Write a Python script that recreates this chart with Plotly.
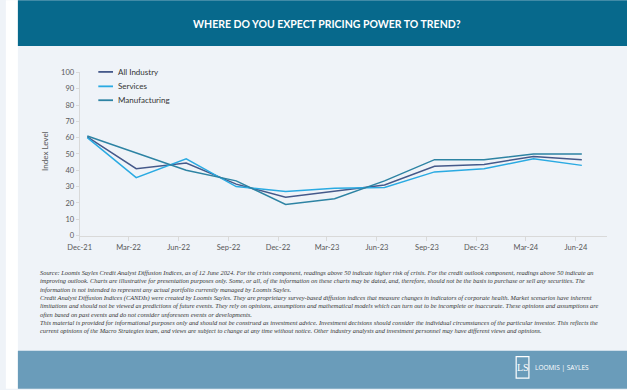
import plotly.graph_objects as go

# ---- data ----
dates = ["2021-12-15", "2022-03-15", "2022-06-15", "2022-09-15", "2022-12-15",
         "2023-03-15", "2023-06-15", "2023-09-15", "2023-12-15", "2024-03-15", "2024-06-12"]
tick_dates = ["2021-12-01", "2022-03-01", "2022-06-01", "2022-09-01", "2022-12-01",
              "2023-03-01", "2023-06-01", "2023-09-01", "2023-12-01", "2024-03-01", "2024-06-01"]
tick_labels = ["Dec-21", "Mar-22", "Jun-22", "Sep-22", "Dec-22", "Mar-23",
               "Jun-23", "Sep-23", "Dec-23", "Mar-24", "Jun-24"]
all_industry = [60.5, 41, 44.5, 31.5, 23.5, 27, 31, 42.5, 43.5, 48.5, 46.5]
services = [60, 35.5, 47, 30, 27, 29, 29.5, 39, 41, 47, 43]
manufacturing = [61, 50.5, 40, 33.5, 19, 22.5, 33.5, 46.5, 46.5, 50, 50]
series_names = ["All Industry", "Services", "Manufacturing"]
series_values = [all_industry, services, manufacturing]
series_colors = ["#45598A", "#2AAAE2", "#2D83A3"]
y_ticks = [0, 10, 20, 30, 40, 50, 60, 70, 80, 90, 100]

title_text = "WHERE DO YOU EXPECT PRICING POWER TO TREND?"
footnote_lines = [
    "Source: Loomis Sayles Credit Analyst Diffusion Indices, as of 12 June 2024. For the crisis component, readings above 50 indicate higher risk of crisis. For the credit outlook component, readings above 50 indicate an",
    "improving outlook. Charts are illustrative for presentation purposes only. Some, or all, of the information on these charts may be dated, and, therefore, should not be the basis to purchase or sell any securities. The",
    "information is not intended to represent any actual portfolio currently managed by Loomis Sayles.",
    "Credit Analyst Diffusion Indices (CANDIs) were created by Loomis Sayles. They are proprietary survey-based diffusion indices that measure changes in indicators of corporate health. Market scenarios have inherent",
    "limitations and should not be viewed as predictions of future events. They rely on opinions, assumptions and mathematical models which can turn out to be incomplete or inaccurate. These opinions and assumptions are",
    "often based on past events and do not consider unforeseen events or developments.",
    "This material is provided for informational purposes only and should not be construed as investment advice. Investment decisions should consider the individual circumstances of the particular investor. This reflects the",
    "current opinions of the Macro Strategies team, and views are subject to change at any time without notice. Other industry analysts and investment personnel may have different views and opinions.",
]

W, H = 627, 390
BG = "#EFF3F8"
FONT = "Lato"

fig = go.Figure()
for name, vals, col in zip(series_names, series_values, series_colors):
    fig.add_trace(go.Scatter(x=dates, y=vals, name=name, mode="lines",
                             line=dict(color=col, width=1.5), showlegend=False))

def px_x(p):
    return p / W

def px_y(p):
    return 1 - p / H

shapes = [
    dict(type="rect", xref="paper", yref="paper", x0=-0.01, x1=px_x(6), y0=-0.01, y1=1.01,
         fillcolor="white", line=dict(width=0), layer="above"),
    dict(type="rect", xref="paper", yref="paper", x0=px_x(6), x1=1.01, y0=px_y(43), y1=1.01,
         fillcolor="#07698C", line=dict(width=0), layer="above"),
    dict(type="rect", xref="paper", yref="paper", x0=px_x(6), x1=1.01, y0=-0.01, y1=px_y(355),
         fillcolor="#6A9CBA", line=dict(width=0), layer="above"),
    dict(type="rect", xref="paper", yref="paper", x0=px_x(514), x1=px_x(527),
         y0=px_y(383), y1=px_y(361), fillcolor="rgba(0,0,0,0)",
         line=dict(color="white", width=1.2), layer="above"),
]

annotations = [
    dict(text="<b>" + title_text + "</b>", x=px_x(321), y=px_y(20), xref="paper", yref="paper",
         showarrow=False, font=dict(family=FONT, size=10.5, color="white"),
         xanchor="center", yanchor="middle"),
    dict(text="Index Level", x=px_x(33), y=px_y(150), xref="paper", yref="paper",
         showarrow=False, textangle=-90, font=dict(family=FONT, size=8, color="#595959"),
         xanchor="center", yanchor="middle"),
    dict(text="<i>" + "<br>".join(footnote_lines) + "</i>", x=px_x(26), y=px_y(269),
         xref="paper", yref="paper", showarrow=False, align="left",
         font=dict(family="Liberation Serif", size=6.4, color="#333333"),
         xanchor="left", yanchor="top"),
    dict(text="LS", x=px_x(520.5), y=px_y(372), xref="paper", yref="paper", showarrow=False,
         font=dict(family="Liberation Serif", size=10, color="white"),
         xanchor="center", yanchor="middle"),
    dict(text="LOOMIS | SAYLES", x=px_x(531), y=px_y(372), xref="paper", yref="paper",
         showarrow=False, font=dict(family="Open Sans", size=6.5, color="white"),
         xanchor="left", yanchor="middle"),
]

legend_rows = [69.5, 84.3, 98.5]
for name, col, yy in zip(series_names, series_colors, legend_rows):
    shapes.append(dict(type="line", xref="paper", yref="paper", x0=px_x(88), x1=px_x(103),
                       y0=px_y(yy), y1=px_y(yy), line=dict(color=col, width=1.8)))
    annotations.append(dict(text=name, x=px_x(106), y=px_y(yy), xref="paper", yref="paper",
                            showarrow=False, xanchor="left", yanchor="middle",
                            font=dict(family=FONT, size=8, color="#333333")))

fig.update_layout(
    width=W, height=H,
    margin=dict(l=0, r=0, t=0, b=0),
    paper_bgcolor=BG, plot_bgcolor=BG,
    showlegend=False,
    shapes=shapes, annotations=annotations,
    xaxis=dict(domain=[px_x(69), px_x(607)], type="date",
               range=["2021-12-01", "2024-07-29"],
               tickmode="array", tickvals=tick_dates, ticktext=tick_labels,
               showgrid=False, zeroline=False, showline=True, linecolor="#D9D9D9",
               linewidth=1, ticks="outside", ticklen=4, tickcolor="#D9D9D9",
               tickfont=dict(family=FONT, size=7.5, color="#595959")),
    yaxis=dict(domain=[px_y(237), px_y(70)], range=[0, 100],
               tickmode="array", tickvals=y_ticks,
               showgrid=False, zeroline=False, showline=True, linecolor="#D9D9D9",
               linewidth=1, ticks="outside", ticklen=3, tickcolor="#D9D9D9",
               tickfont=dict(family=FONT, size=7.5, color="#595959")),
)

post = ("document.body.style.margin='0';document.body.style.padding='0';"
        "document.body.style.overflow='hidden';"
        "document.documentElement.style.overflow='hidden';"
        "var d=document.getElementById('{plot_id}');"
        "d.style.position='fixed';d.style.left='0px';d.style.top='0px';")
fig.write_html("out.html", post_script=post, config={"displayModeBar": False})
